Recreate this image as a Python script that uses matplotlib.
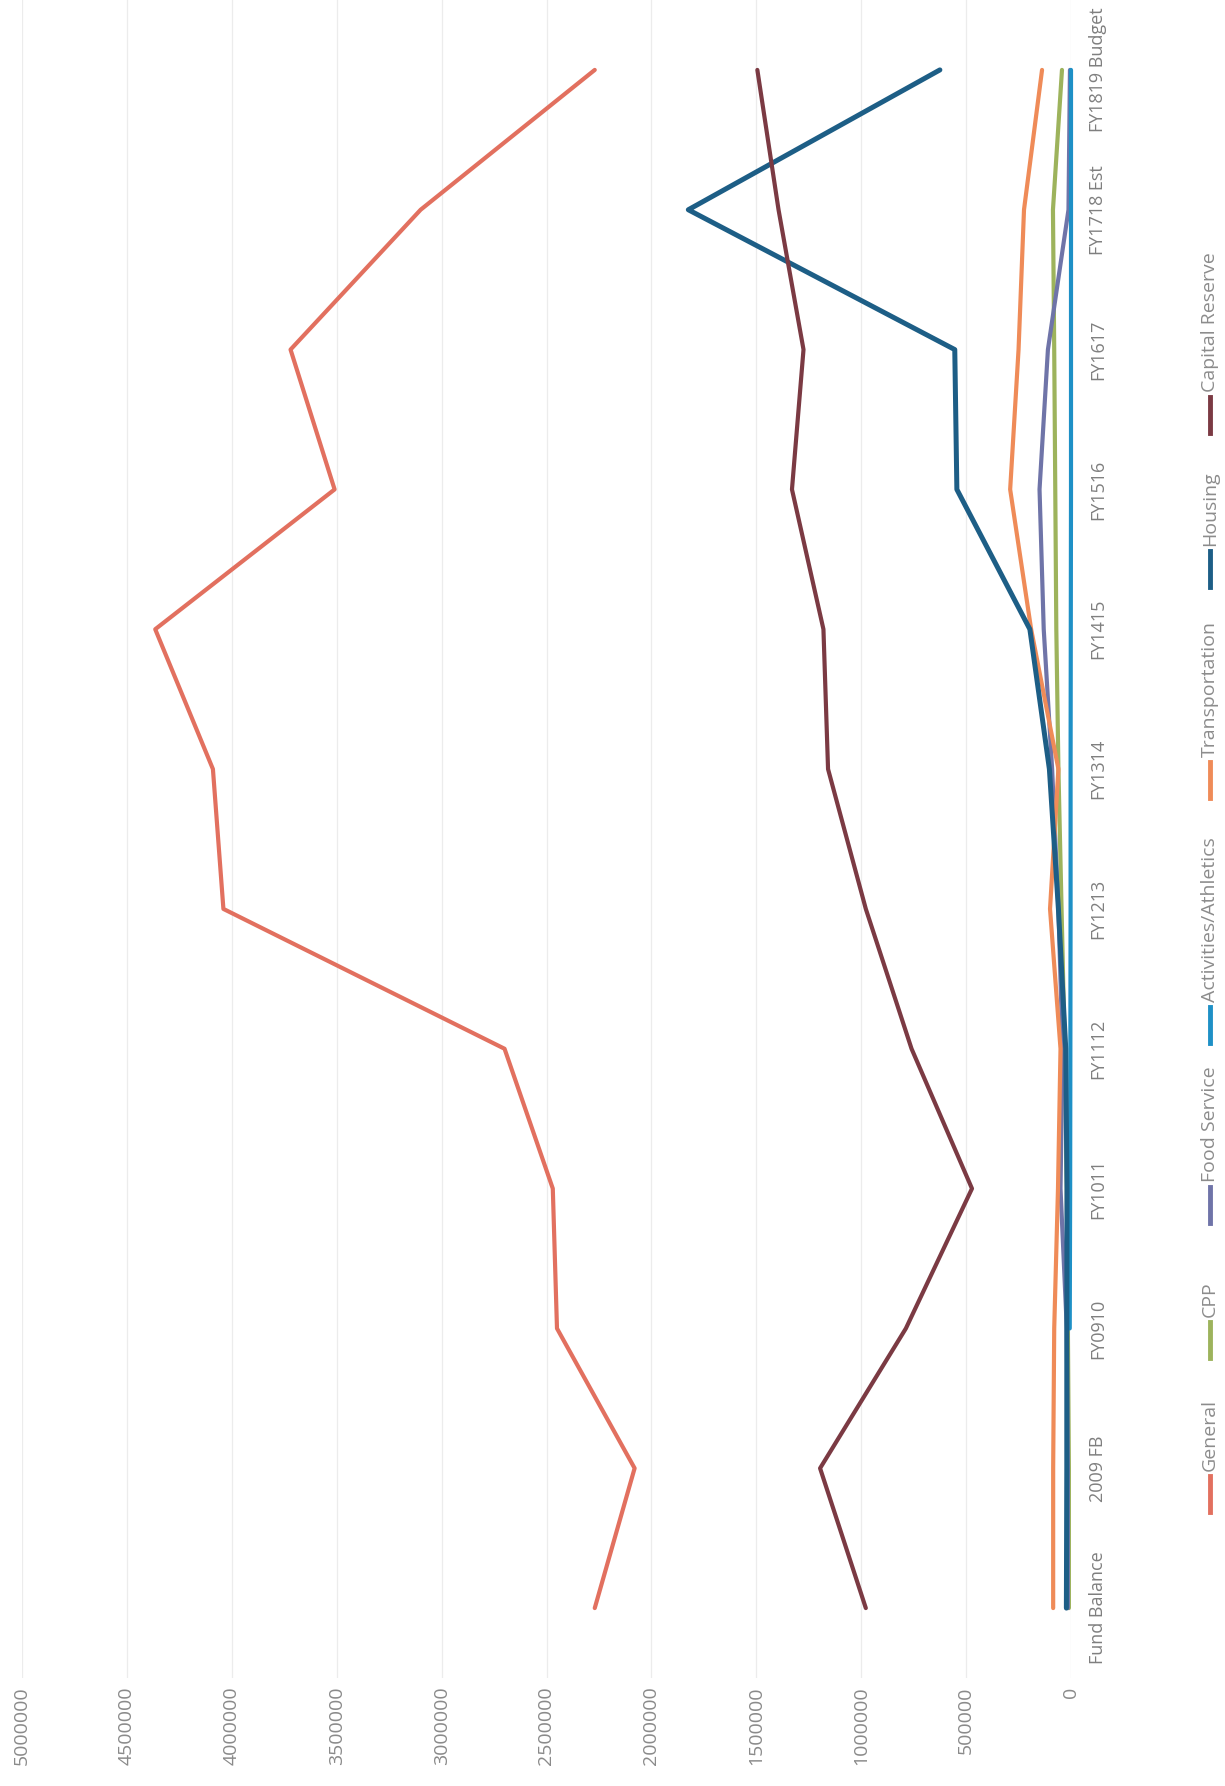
import numpy as np
import matplotlib
matplotlib.use('Agg')
import matplotlib.pyplot as plt
from matplotlib.lines import Line2D

plt.rcParams['font.family'] = ['Open Sans', 'DejaVu Sans']

# anos fiscais (eixo de categorias)
anos = ['Fund Balance', '2009 FB', 'FY0910', 'FY1011', 'FY1112', 'FY1213',
        'FY1314', 'FY1415', 'FY1516', 'FY1617', 'FY1718 Est', 'FY1819 Budget']

# saldos por fundo
general = [2270000, 2080000, 2450000, 2470000, 2700000, 4040000,
           4090000, 4365000, 3510000, 3720000, 3100000, 2270000]
cpp = [10000, 10000, 15000, 20000, 30000, 45000,
       60000, 70000, 75000, 80000, 86000, 43000]
food_service = [15000, 15000, 20000, 50000, 40000, 60000,
                90000, 130000, 150000, 110000, 12000, 5000]
activities = [np.nan, np.nan, 6000, 4000, 3000, 2000,
              2000, 1000, 0, 0, 0, 0]
transportation = [85000, 85000, 80000, 62000, 50000, 100000,
                  60000, 190000, 290000, 250000, 224000, 138000]
housing = [22000, 20000, 20000, 19000, 25000, 60000,
           103000, 196000, 544000, 554000, 1824000, 625000]
capital_reserve = [978000, 1196000, 787000, 472000, 760000, 978000,
                   1158000, 1180000, 1330000, 1275000, 1394000, 1495000]

nomes = ['General', 'CPP', 'Food Service', 'Activities/Athletics',
         'Transportation', 'Housing', 'Capital Reserve']
valores = [general, cpp, food_service, activities, transportation, housing, capital_reserve]
cores = ['#e2705f', '#9db35c', '#6f74a8', '#1e90c6', '#ef8b58', '#1d5e86', '#7b3a43']
larguras = [3.0, 3.0, 3.0, 3.0, 3.0, 3.6, 3.0]

# posicao (px a partir do topo) da base de cada item da legenda
legenda_base = [1512, 1358, 1223, 1043, 798, 587, 433]

W, H = 1225, 1786
fig = plt.figure(figsize=(W / 100, H / 100), dpi=100)
ax = fig.add_axes([22 / W, 1 - 1678 / H, (1071 - 22) / W, 1678 / H])

pos = np.arange(len(anos))
for v, c, lw in zip(valores, cores, larguras):
    ax.plot(v, pos, color=c, lw=lw, solid_joinstyle='round',
            solid_capstyle='round', clip_on=False)

ax.set_xlim(5000000, 0)
ax.set_ylim(-0.5, len(anos) - 0.5)

ticks = np.arange(0, 5000001, 500000)
ax.set_xticks(ticks)
ax.set_xticklabels([str(t) for t in ticks], rotation=90, fontsize=14,
                   color='#8a8a8a', va='top')
ax.tick_params(axis='x', length=0, pad=6)

ax.yaxis.tick_right()
ax.set_yticks(pos)
ax.set_yticklabels(anos, rotation=90, fontsize=13, color='#7f7f7f', va='center')
ax.tick_params(axis='y', length=0, pad=13)

ax.grid(axis='x', color='#ececec', lw=0.9)
ax.set_axisbelow(True)
for s in ax.spines.values():
    s.set_visible(False)

# legenda vertical desenhada a mao
leg_x = 1210 / W
for nome, c, base in zip(nomes, cores, legenda_base):
    y0 = 1 - base / H
    y1 = 1 - (base - 36) / H
    fig.add_artist(Line2D([leg_x, leg_x], [y0, y1], color=c, lw=3.5,
                          transform=fig.transFigure))
    fig.text(leg_x, y1 + 5 / H, nome, rotation=90, ha='center', va='bottom',
             fontsize=14, color='#8c8c8c')

fig.savefig('out.png', dpi=100, facecolor='white')
